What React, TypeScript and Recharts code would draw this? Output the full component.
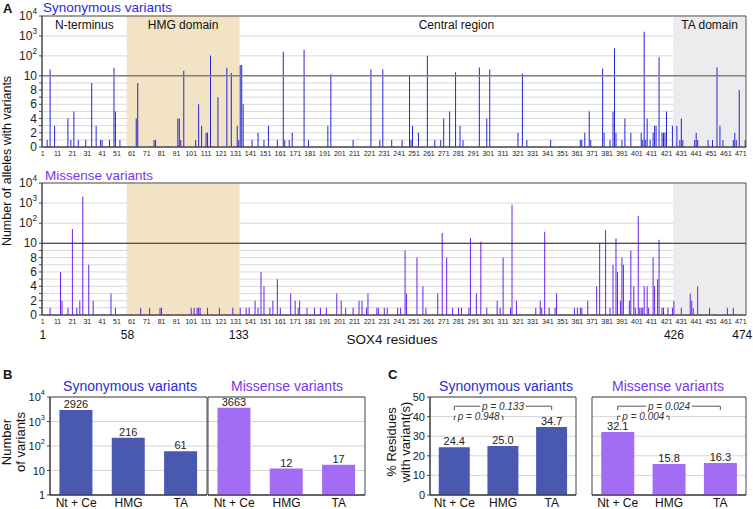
import React from "react";
import {
  BarChart,
  Bar,
  XAxis,
  YAxis,
  CartesianGrid,
  ReferenceArea,
  ReferenceLine,
  LabelList,
} from "recharts";

const FONT = '"Liberation Sans", Arial, sans-serif';

/* ================= PANEL A DATA (alleles per residue) ================= */
const RESIDUE_TOTAL = 474;

// [residue, number of alleles]; residues not listed have none
const synonymousHits: [number, number][] = [
  [4, 1], [6, 21], [9, 3], [18, 4], [20, 1], [22, 5], [25, 1], [30, 1], [34, 9], [37, 3],
  [40, 1], [41, 1], [46, 1], [49, 25], [50, 5], [53, 1], [64, 4], [65, 9], [76, 1], [77, 1],
  [92, 4], [93, 4], [94, 1], [96, 18], [104, 1], [106, 6], [108, 3], [111, 2], [112, 2],
  [114, 105], [119, 7], [125, 25], [128, 14], [132, 3], [133, 1], [134, 35], [135, 35],
  [136, 6], [142, 1], [146, 2], [150, 1], [153, 3], [159, 1], [163, 160], [164, 1], [167, 1],
  [169, 2], [177, 200], [180, 1], [193, 3], [195, 12], [210, 1], [222, 21], [228, 1],
  [230, 21], [236, 1], [243, 1], [248, 11], [249, 1], [250, 3], [254, 2], [260, 100],
  [265, 1], [269, 1], [271, 4], [275, 5], [279, 15], [282, 3], [284, 1], [295, 26], [300, 4],
  [302, 21], [321, 2], [324, 13], [327, 1], [343, 1], [363, 1], [364, 1], [366, 2], [369, 5],
  [370, 1], [378, 23], [379, 2], [383, 1], [385, 5], [386, 240], [387, 2], [391, 1], [393, 4],
  [397, 2], [404, 2], [405, 1], [406, 1600], [407, 1], [408, 4], [410, 1], [412, 2], [413, 3],
  [414, 3], [416, 85], [418, 2], [419, 2], [420, 2], [421, 5], [425, 3], [428, 3], [430, 1],
  [431, 4], [432, 1], [440, 1], [441, 2], [442, 1], [449, 1], [452, 1], [455, 26], [457, 3],
  [459, 1], [466, 1], [467, 2], [468, 1], [470, 8], [474, 1],
];

const missenseHits: [number, number][] = [
  [6, 1], [13, 6], [14, 2], [18, 1], [21, 52], [24, 1], [26, 2], [28, 2150], [32, 7], [35, 2],
  [47, 3], [50, 1], [67, 1], [73, 1], [80, 1], [81, 1], [101, 1], [103, 1], [105, 1], [106, 1],
  [107, 1], [112, 1], [120, 1], [129, 1], [134, 1], [138, 1], [140, 1], [144, 2], [146, 1],
  [148, 6], [150, 4], [154, 1], [156, 2], [159, 5], [161, 1], [168, 3], [171, 2], [173, 1],
  [174, 2], [179, 1], [184, 1], [188, 1], [192, 1], [199, 3], [202, 2], [205, 1], [210, 1],
  [214, 2], [216, 2], [219, 1], [220, 3], [226, 1], [227, 1], [231, 1], [233, 1], [240, 1],
  [242, 1], [245, 9], [246, 3], [253, 8], [257, 4], [259, 1], [267, 3], [270, 32], [273, 8],
  [277, 1], [281, 1], [283, 1], [288, 1], [289, 19], [293, 3], [296, 12], [300, 1], [307, 2],
  [309, 1], [311, 8], [316, 1], [317, 830], [320, 2], [333, 1], [336, 2], [337, 1], [339, 37],
  [342, 1], [346, 1], [347, 3], [359, 1], [361, 1], [363, 1], [364, 1], [368, 2], [374, 4],
  [376, 10], [380, 45], [383, 1], [385, 7], [387, 18], [388, 6], [390, 2], [391, 8], [392, 7],
  [396, 2], [397, 9], [399, 4], [400, 1], [402, 230], [403, 1], [404, 1], [405, 1], [406, 4],
  [408, 4], [409, 1], [412, 8], [413, 4], [415, 5], [416, 15], [418, 1], [419, 1], [422, 1],
  [425, 1], [426, 2], [431, 1], [437, 3], [438, 2], [439, 1], [442, 4], [450, 1], [462, 1],
  [466, 1],
];

const HMG_START = 58;
const HMG_END = 133;
const TA_START = 426;
const domainMarks = [1, 58, 133, 426, 474];
const regionNames = ["N-terminus", "HMG domain", "Central region", "TA domain"];
const regionStarts = [1, 58, 134, 426];
const regionEnds = [57, 133, 425, 474];

/* ================= PANELS B + C DATA ================= */
const regions = ["Nt + Ce", "HMG", "TA"];
const synVariantCounts = [2926, 216, 61];
const misVariantCounts = [3663, 12, 17];
const synResiduePct = [24.4, 25.0, 34.7];
const misResiduePct = [32.1, 15.8, 16.3];
// p values: [Nt+Ce vs HMG, Nt+Ce vs TA]
const synPValues = ["0.948", "0.133"];
const misPValues = ["0.004", "0.024"];

/* ================= HYBRID AXIS (linear 0-10, log above) ================= */
const DECADE = 2.8;
const toHybrid = (v: number) => (v <= 10 ? v : 10 + Math.log10(v / 10) * DECADE);
const HYBRID_MAX = toHybrid(10000);
const hybridTicks = [0, 1, 2, 3, 4, 5, 6, 7, 8, 9, 10, 100, 1000, 10000].map(toHybrid);

const residueRows = Array.from({ length: RESIDUE_TOTAL }, (_, i) => ({
  residue: i + 1,
  syn: 0,
  mis: 0,
}));
synonymousHits.forEach(([r, n]) => (residueRows[r - 1].syn = toHybrid(n)));
missenseHits.forEach(([r, n]) => (residueRows[r - 1].mis = toHybrid(n)));

const toRows = (values: number[]) => regions.map((region, i) => ({ region, value: values[i] }));

/* ================= SMALL PIECES ================= */
function PowerLabel({ x, y, main, sup, size = 12 }: any) {
  return (
    <text x={x} y={y} dy={4} textAnchor="end" fontSize={size} fill="#222" fontFamily={FONT}>
      {main}
      {sup ? (
        <tspan dy={-6} fontSize={size * 0.68}>
          {sup}
        </tspan>
      ) : null}
    </text>
  );
}

const HybridTick = (props: any) => {
  const { x, y, payload } = props;
  const v = payload.value as number;
  if (v <= 10.001) {
    const r = Math.round(v);
    if (r % 2 !== 0) return <g />;
    return <PowerLabel x={x} y={y} main={String(r)} />;
  }
  const exp = Math.round(1 + (v - 10) / DECADE);
  return <PowerLabel x={x} y={y} main="10" sup={String(exp)} />;
};

const LogTick = (props: any) => {
  const { x, y, payload } = props;
  const exp = Math.round(Math.log10(payload.value));
  if (exp === 0) return <PowerLabel x={x} y={y} main="1" size={11} />;
  if (exp === 1) return <PowerLabel x={x} y={y} main="10" size={11} />;
  return <PowerLabel x={x} y={y} main="10" sup={String(exp)} size={11} />;
};

const InnerTick = (props: any) => {
  const { x, y } = props;
  return <line x1={x} x2={x + 4} y1={y} y2={y} stroke="#444" />;
};

// residue numbers under the missense track; the last one is pulled inside the frame
const markLabel = (text: string, last: boolean) => (props: any) => {
  const vb = props.viewBox || {};
  return (
    <text
      x={vb.x + (last ? -3 : 0)}
      y={vb.y + (vb.height || 0) + 14}
      dy={10}
      textAnchor="middle"
      fontSize={12}
      fill="#111"
      fontFamily={FONT}
    >
      {text}
    </text>
  );
};

const pLabel = (text: string) => (props: any) => {
  const vb = props.viewBox || {};
  const cx = vb.x + (vb.width || 0) / 2;
  const cy = vb.y + (vb.height || 0) / 2;
  const w = text.length * 4.6 + 4;
  return (
    <g>
      <rect x={cx - w / 2} y={cy - 5} width={w} height={10} fill="#fff" />
      <text
        x={cx}
        y={cy}
        dy={3.5}
        textAnchor="middle"
        fontSize={10}
        fontStyle="italic"
        fill="#333"
        fontFamily={FONT}
      >
        {text}
      </text>
    </g>
  );
};

function Txt({ x, y, size = 12, color = "#111", center = false, bold = false, children }: any) {
  return (
    <div
      style={{
        position: "absolute",
        left: x,
        top: y,
        fontSize: size,
        color,
        fontWeight: bold ? 700 : 400,
        lineHeight: 1,
        whiteSpace: "nowrap",
        transform: center ? "translate(-50%, -50%)" : "translateY(-50%)",
      }}
    >
      {children}
    </div>
  );
}

function VTitle({ x, y, size = 13, children }: any) {
  return (
    <div
      style={{
        position: "absolute",
        left: x,
        top: y,
        fontSize: size,
        lineHeight: 1.05,
        color: "#111",
        textAlign: "center",
        whiteSpace: "nowrap",
        transform: "translate(-50%, -50%) rotate(-90deg)",
      }}
    >
      {children}
    </div>
  );
}

/* ================= PANEL A CHART ================= */
function ResidueChart({ dataKey, color, tenLine, showRegions, showMarks, height, marginBottom }: any) {
  return (
    <BarChart
      width={753}
      height={height}
      data={residueRows}
      margin={{ top: 16, right: 7, left: 12, bottom: marginBottom }}
      barCategoryGap="12%"
    >
      <ReferenceArea x1={HMG_START} x2={HMG_END} fill="#f1e3c4" fillOpacity={1} />
      <ReferenceArea x1={TA_START} x2={RESIDUE_TOTAL} fill="#ececef" fillOpacity={1} />
      <CartesianGrid vertical={false} stroke="#d8d8d8" />
      {showRegions &&
        regionNames.map((name, i) => (
          <ReferenceArea
            key={name}
            x1={regionStarts[i]}
            x2={regionEnds[i]}
            fill="none"
            label={{
              value: name,
              position: "insideTop",
              offset: 4,
              fontSize: 12,
              fill: "#111",
              fontFamily: FONT,
            }}
          />
        ))}
      <XAxis
        dataKey="residue"
        interval={9}
        height={12}
        tickLine={false}
        tickSize={0}
        tickMargin={4}
        axisLine={{ stroke: "#444" }}
        tick={{ fontSize: 7, fill: "#222", fontFamily: FONT }}
      />
      <YAxis
        type="number"
        domain={[0, HYBRID_MAX]}
        ticks={hybridTicks}
        interval={0}
        allowDataOverflow
        width={30}
        tickSize={3}
        tickMargin={2}
        tickLine={{ stroke: "#444" }}
        axisLine={{ stroke: "#444" }}
        tick={<HybridTick />}
      />
      <ReferenceLine y={10} stroke={tenLine} strokeWidth={tenLine === "#222" ? 1 : 1.6} />
      <Bar dataKey={dataKey} fill={color} isAnimationActive={false} />
      <ReferenceArea y1={0} y2={HYBRID_MAX} fill="none" stroke="#555" />
      {showMarks &&
        domainMarks.map((m, i) => (
          <ReferenceLine
            key={m}
            x={m}
            strokeOpacity={0}
            label={markLabel(String(m), i === domainMarks.length - 1)}
          />
        ))}
    </BarChart>
  );
}

/* ================= PANELS B + C CHART ================= */
function SummaryChart({
  values,
  color,
  width,
  height,
  margin,
  axis,
  showTickLabels,
  pValues,
  decimals,
}: any) {
  const isLog = axis === "log";
  const domain = isLog ? [1, 10000] : [0, 50];
  const ticks = isLog ? [1, 10, 100, 1000, 10000] : [0, 10, 20, 30, 40, 50];
  const brackets = pValues
    ? [
        { to: "HMG", level: 40.2, text: `p = ${pValues[0]}` },
        { to: "TA", level: 45.3, text: `p = ${pValues[1]}` },
      ]
    : [];
  return (
    <BarChart
      width={width}
      height={height}
      data={toRows(values)}
      margin={margin}
      barCategoryGap="18%"
    >
      <CartesianGrid vertical={false} stroke="#d6d6d6" />
      <XAxis
        dataKey="region"
        interval={0}
        height={14}
        tickLine={false}
        tickSize={0}
        tickMargin={3}
        axisLine={{ stroke: "#333" }}
        tick={{ fontSize: 12, fill: "#111", fontFamily: FONT }}
      />
      <YAxis
        type="number"
        scale={isLog ? "log" : "linear"}
        domain={domain}
        ticks={ticks}
        interval={0}
        allowDataOverflow
        width={showTickLabels ? (isLog ? 34 : 26) : 0}
        tickSize={showTickLabels ? 3 : 0}
        tickMargin={showTickLabels ? 2 : 0}
        tickLine={showTickLabels ? { stroke: "#444" } : false}
        axisLine={{ stroke: "#333" }}
        tick={showTickLabels ? (isLog ? <LogTick /> : { fontSize: 11, fill: "#222", fontFamily: FONT }) : <InnerTick />}
      />
      <Bar dataKey="value" fill={color} isAnimationActive={false}>
        <LabelList
          dataKey="value"
          position="top"
          offset={2}
          formatter={(v: any) => (decimals ? Number(v).toFixed(decimals) : v)}
          fontSize={11}
          fill="#222"
          fontFamily={FONT}
        />
      </Bar>
      {brackets.map((b) => [
        <ReferenceLine
          key={b.text + "h"}
          segment={[
            { x: "Nt + Ce", y: b.level },
            { x: b.to, y: b.level },
          ]}
          stroke="#555"
          label={pLabel(b.text)}
        />,
        <ReferenceLine
          key={b.text + "l"}
          segment={[
            { x: "Nt + Ce", y: b.level },
            { x: "Nt + Ce", y: b.level - 2 },
          ]}
          stroke="#555"
        />,
        <ReferenceLine
          key={b.text + "r"}
          segment={[
            { x: b.to, y: b.level },
            { x: b.to, y: b.level - 2 },
          ]}
          stroke="#555"
        />,
      ])}
      <ReferenceArea y1={domain[0]} y2={domain[1]} fill="none" stroke="#444" />
    </BarChart>
  );
}

/* ================= FIGURE ================= */
export default function App() {
  const blue = "#2b2bd6";
  const purple = "#7a35ee";
  return (
    <div
      style={{
        position: "absolute",
        left: 0,
        top: 0,
        width: 753,
        height: 509,
        background: "#fff",
        fontFamily: FONT,
        overflow: "hidden",
      }}
    >
      {/* -------- A -------- */}
      <Txt x={3} y={8} size={13} bold>A</Txt>
      <Txt x={43} y={8} size={13.5} color={blue}>Synonymous variants</Txt>
      <Txt x={45} y={176} size={13.5} color={purple}>Missense variants</Txt>
      <VTitle x={8} y={161} size={12.5}>Number of alleles with variants</VTitle>

      <div style={{ position: "absolute", left: 0, top: 0 }}>
        <ResidueChart
          dataKey="syn"
          color="#2626d8"
          tenLine="#808080"
          showRegions
          height={160}
          marginBottom={1}
        />
      </div>
      <div style={{ position: "absolute", left: 0, top: 167 }}>
        <ResidueChart
          dataKey="mis"
          color="#6a1ff0"
          tenLine="#222"
          showMarks
          height={190}
          marginBottom={30}
        />
      </div>
      <Txt x={392} y={340} size={13.5} center>SOX4 residues</Txt>

      {/* -------- B -------- */}
      <Txt x={3} y={374} size={13} bold>B</Txt>
      <Txt x={130} y={386} size={14} color={blue} center>Synonymous variants</Txt>
      <Txt x={287} y={386} size={14} color={purple} center>Missense variants</Txt>
      <VTitle x={14} y={442} size={13}>
        Number
        <br />
        of variants
      </VTitle>
      <div style={{ position: "absolute", left: 0, top: 388 }}>
        <SummaryChart
          values={synVariantCounts}
          color="#4a59b0"
          width={210}
          height={121}
          margin={{ top: 9, right: 3, left: 16, bottom: 0 }}
          axis="log"
          showTickLabels
        />
      </div>
      <div style={{ position: "absolute", left: 205, top: 388 }}>
        <SummaryChart
          values={misVariantCounts}
          color="#a26cf4"
          width={165}
          height={121}
          margin={{ top: 9, right: 5, left: 3, bottom: 0 }}
          axis="log"
        />
      </div>

      {/* -------- C -------- */}
      <Txt x={388} y={374} size={13} bold>C</Txt>
      <Txt x={506} y={386} size={14} color={blue} center>Synonymous variants</Txt>
      <Txt x={668} y={386} size={14} color={purple} center>Missense variants</Txt>
      <VTitle x={399} y={442} size={13}>
        % Residues
        <br />
        with variant(s)
      </VTitle>
      <div style={{ position: "absolute", left: 380, top: 388 }}>
        <SummaryChart
          values={synResiduePct}
          color="#4a59b0"
          width={200}
          height={121}
          margin={{ top: 9, right: 4, left: 24, bottom: 0 }}
          axis="linear"
          showTickLabels
          pValues={synPValues}
          decimals={1}
        />
      </div>
      <div style={{ position: "absolute", left: 588, top: 388 }}>
        <SummaryChart
          values={misResiduePct}
          color="#a26cf4"
          width={165}
          height={121}
          margin={{ top: 9, right: 7, left: 4, bottom: 0 }}
          axis="linear"
          pValues={misPValues}
          decimals={1}
        />
      </div>
    </div>
  );
}
